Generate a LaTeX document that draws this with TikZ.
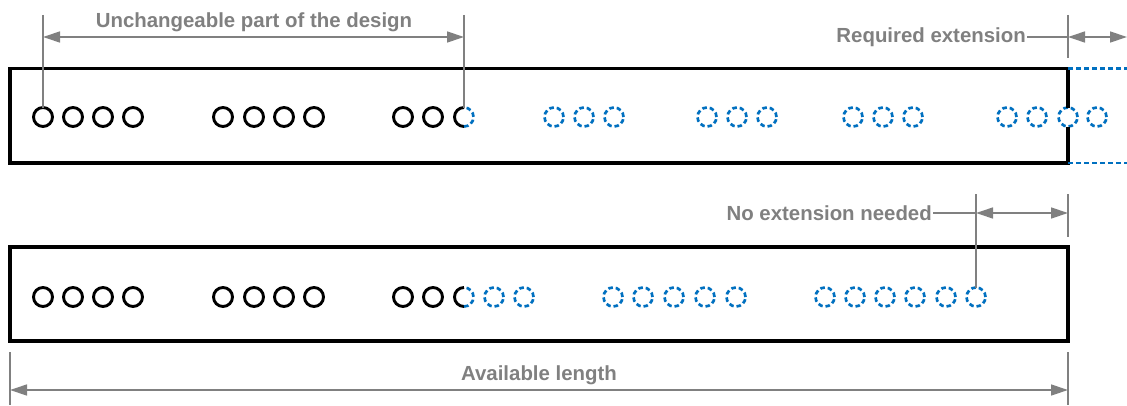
\documentclass[tikz,border=0pt]{standalone}
\usepackage{fontspec}
\setmainfont{Liberation Sans}
\usetikzlibrary{arrows.meta}
\definecolor{dimgray}{HTML}{808080}
\definecolor{extblue}{HTML}{0070C0}
\begin{document}
\begin{tikzpicture}[x=1bp,y=1bp,
  hole/.style={circle,draw=black,line width=2.9bp,minimum size=19bp,inner sep=0pt,outer sep=0pt},
  newhole/.style={circle,draw=extblue,line width=2.7bp,dash pattern=on 4.6bp off 2.9bp,minimum size=19bp,inner sep=0pt,outer sep=0pt},
  splithole/.style={circle,minimum size=19bp,inner sep=0pt,outer sep=0pt},
  oldarc/.style={draw=black,line width=2.9bp},
  newarc/.style={draw=extblue,line width=2.7bp,dash pattern=on 4.6bp off 2.9bp},
  wall/.style={draw=black,line width=3.2bp,line join=miter},
  extline/.style={draw=extblue,line width=2.7bp,dash pattern=on 5bp off 3bp},
  dimline/.style={draw=dimgray,line width=1.3bp},
  dimarrow/.style={dimline,{Triangle[length=17bp,width=11bp]}-{Triangle[length=17bp,width=11bp]}},
  dimlabel/.style={text=dimgray,font=\fontsize{20.4bp}{24bp}\selectfont\bfseries,inner sep=0pt}
]
\useasboundingbox[fill=white] (0,0) rectangle (1127,405);

% ---------- upper bar: current design with required extension ----------
\foreach \x [count=\i] in {43,73,103,133,223,254,284,314,403,433}
  \node[hole] (ta\i) at (\x,288) {};
\node[splithole] (ts) at (464,288) {};
\draw[oldarc] (ts.north) arc[start angle=90,end angle=270,radius=9.5bp];
\draw[newarc] (ts.south) arc[start angle=-90,end angle=90,radius=9.5bp];
\foreach \x [count=\i] in {554,584,614,707,737,767,853,883,913,1007,1037,1068,1097}
  \node[newhole] (tb\i) at (\x,288) {};

\coordinate (tNE) at (1068,336.5);
\coordinate (tNW) at (10,336.5);
\coordinate (tSW) at (10,242);
\coordinate (tSE) at (1068,242);
\coordinate (tXN) at (1127,336.5);
\coordinate (tXS) at (1127,242);
\draw[wall] (tb12.north) -- (tNE) -- (tNW) -- (tSW) -- (tSE) -- (tb12.south);
\draw[extline] (tNE) -- (tXN);
\draw[extline] (tSE) -- (tXS);

% dimension: unchangeable part
\coordinate (uL) at (43,390);
\coordinate (uR) at (464,390);
\coordinate (uLa) at (43,368);
\coordinate (uRa) at (464,368);
\draw[dimline] (uL) -- (ta1.north);
\draw[dimline] (uR) -- (ts.north);
\draw[dimarrow] (uLa) -- (uRa);
\node[dimlabel,anchor=base] (tu) at (254,377.7) {Unchangeable part of the design};

% dimension: required extension
\coordinate (rT) at (1068,390);
\coordinate (rB) at (1068,347);
\coordinate (rM) at (1068,368);
\coordinate (rE) at (1127,368);
\coordinate (rS) at (1027,368);
\draw[dimline] (rT) -- (rB);
\node[dimlabel,anchor=base east] (tre) at (1026,362.3) {Required extension};
\draw[dimline] (rS) -- (rM);
\draw[dimarrow] (rM) -- (rE);

% ---------- lower bar: modified design within available length ----------
\foreach \x [count=\i] in {43,73,103,133,223,254,284,314,403,433}
  \node[hole] (ba\i) at (\x,108) {};
\node[splithole] (bs) at (464,108) {};
\draw[oldarc] (bs.north) arc[start angle=90,end angle=270,radius=9.5bp];
\draw[newarc] (bs.south) arc[start angle=-90,end angle=90,radius=9.5bp];
\foreach \x [count=\i] in {494,524,613,643,674,705,736,825,855,885,915,946,976}
  \node[newhole] (bb\i) at (\x,108) {};

\coordinate (bSW) at (10,64);
\coordinate (bNE) at (1068,158);
\draw[wall] (bSW) rectangle (bNE);

% dimension: no extension needed
\coordinate (nT) at (976,211);
\coordinate (nM) at (976,192);
\coordinate (nS) at (933,192);
\coordinate (eT) at (1068,211);
\coordinate (eB) at (1068,168);
\coordinate (eM) at (1068,192);
\draw[dimline] (nT) -- (bb13.north);
\draw[dimline] (eT) -- (eB);
\node[dimlabel,anchor=base east] (tne) at (932,184.3) {No extension needed};
\draw[dimline] (nS) -- (nM);
\draw[dimarrow] (nM) -- (eM);

% dimension: available length
\coordinate (aLT) at (10,53);
\coordinate (aLB) at (10,0);
\coordinate (aRT) at (1068,53);
\coordinate (aRB) at (1068,0);
\coordinate (aL) at (10,15);
\coordinate (aR) at (1068,15);
\draw[dimline] (aLT) -- (aLB);
\draw[dimline] (aRT) -- (aRB);
\draw[dimarrow] (aL) -- (aR);
\node[dimlabel,anchor=base] (tav) at (539,25) {Available length};
\end{tikzpicture}
\end{document}
